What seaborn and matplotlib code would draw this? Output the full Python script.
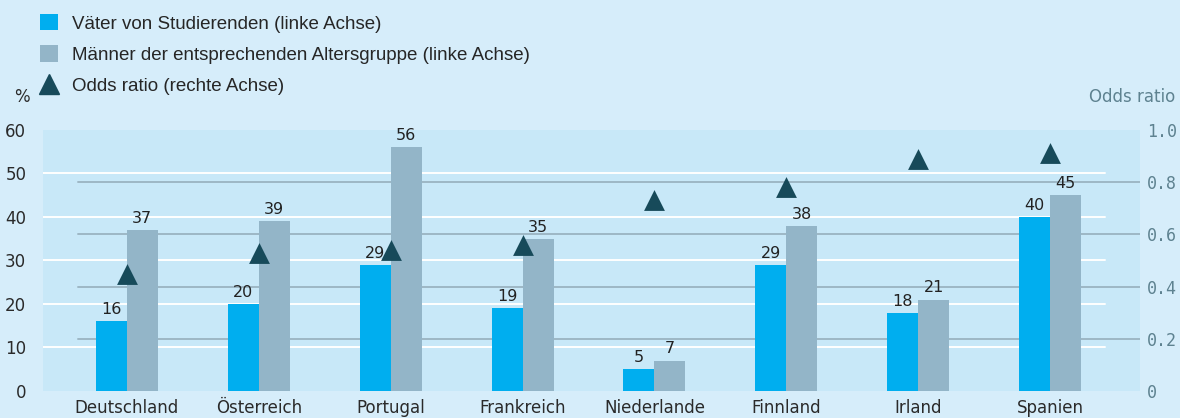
import pandas as pd
import numpy as np
import matplotlib
matplotlib.use('Agg')
import matplotlib.pyplot as plt
import seaborn as sns
from matplotlib.patches import Patch
from matplotlib.lines import Line2D

# Daten
laender = ['Deutschland', 'Österreich', 'Portugal', 'Frankreich',
           'Niederlande', 'Finnland', 'Irland', 'Spanien']
vaeter = [16, 20, 29, 19, 5, 29, 18, 40]
maenner = [37, 39, 56, 35, 7, 38, 21, 45]
odds_ratio = [0.45, 0.53, 0.54, 0.56, 0.73, 0.78, 0.89, 0.91]

serie_1 = 'Väter von Studierenden (linke Achse)'
serie_2 = 'Männer der entsprechenden Altersgruppe (linke Achse)'
serie_3 = 'Odds ratio (rechte Achse)'

c_blau = '#00aeef'
c_grau = '#93b5c8'
c_dunkel = '#174a5a'
bg_fig = '#d6edfa'
bg_ax = '#c8e8f8'

LINKS_MAX = 60
RECHTS_MAX = 1.0

df = pd.DataFrame({
    'Land': laender * 2,
    'Wert': vaeter + maenner,
    'Gruppe': [serie_1] * len(laender) + [serie_2] * len(laender),
})

sns.set_style('white')
plt.rcParams['font.family'] = ['DejaVu Sans']

fig = plt.figure(figsize=(11.8, 4.18), dpi=100, facecolor=bg_fig)
ax = fig.add_axes([0.0364, 0.0646, 0.9296, 0.6244])
ax.set_facecolor(bg_ax)

sns.barplot(data=df, x='Land', y='Wert', hue='Gruppe', palette=[c_blau, c_grau],
            width=0.47, gap=0, saturation=1, legend=False, ax=ax, zorder=3,
            linewidth=0, edgecolor='none')
for cont in ax.containers:
    ax.bar_label(cont, padding=3, fontsize=11.5, color='#222222', zorder=5)

ax.set_xlim(-0.636, 7.68)
ax.set_ylim(0, LINKS_MAX)
ax.set_yticks(range(0, 61, 10))
# weiße Hilfslinien linke Achse
for y in range(10, 60, 10):
    ax.axhline(y, xmin=0, xmax=0.968, color='white', lw=1.4, zorder=1)
# graue Hilfslinien der rechten Achse (hinter den Balken)
for y in [0.2, 0.4, 0.6, 0.8]:
    ax.axhline(y / RECHTS_MAX * LINKS_MAX, xmin=0.032, xmax=1, color='#9db7c5', lw=1.4, zorder=2)

ax.set_xlabel('')
ax.set_ylabel('')
ax.tick_params(axis='both', length=0)
ax.tick_params(axis='y', pad=12, labelsize=12, labelcolor='#2a2a2a')
ax.tick_params(axis='x', pad=6, labelsize=12, labelcolor='#2a2a2a')
for s in ax.spines.values():
    s.set_visible(False)

ax2 = ax.twinx()
ax2.set_ylim(0, RECHTS_MAX)
ax2.set_yticks([0, 0.2, 0.4, 0.6, 0.8, 1.0])
ax2.set_yticklabels(['0', '0.2', '0.4', '0.6', '0.8', '1.0'])
sns.scatterplot(x=np.arange(len(laender)), y=odds_ratio, marker='^', s=225,
                color=c_dunkel, edgecolor=c_dunkel, linewidth=0, ax=ax2, zorder=6)
ax2.set_xlim(-0.636, 7.68)
ax2.tick_params(axis='y', length=0, pad=5, labelsize=12, labelcolor='#5e8290')
for lab in ax2.get_yticklabels():
    lab.set_family('DejaVu Sans Mono')
for s in ax2.spines.values():
    s.set_visible(False)
ax2.set_ylabel('')
ax2.patch.set_visible(False)

fig.text(0.012, 0.768, '%', fontsize=12, color='#2a2a2a', va='center')
fig.text(0.996, 0.768, 'Odds ratio', fontsize=12, color='#5e8290', va='center', ha='right')

handles = [Patch(facecolor=c_blau, edgecolor='none'),
           Patch(facecolor=c_grau, edgecolor='none'),
           Line2D([], [], marker='^', ls='', ms=15, color=c_dunkel)]
fig.legend(handles, [serie_1, serie_2, serie_3], loc='upper left',
           bbox_to_anchor=(0.022, 1.0), frameon=False,
           handlelength=0.95, handleheight=0.95, handletextpad=0.75,
           labelspacing=0.68, borderaxespad=0.35,
           prop={'family': ['Liberation Sans'], 'size': 13.5})

fig.savefig('out.png', dpi=100, facecolor=bg_fig)
